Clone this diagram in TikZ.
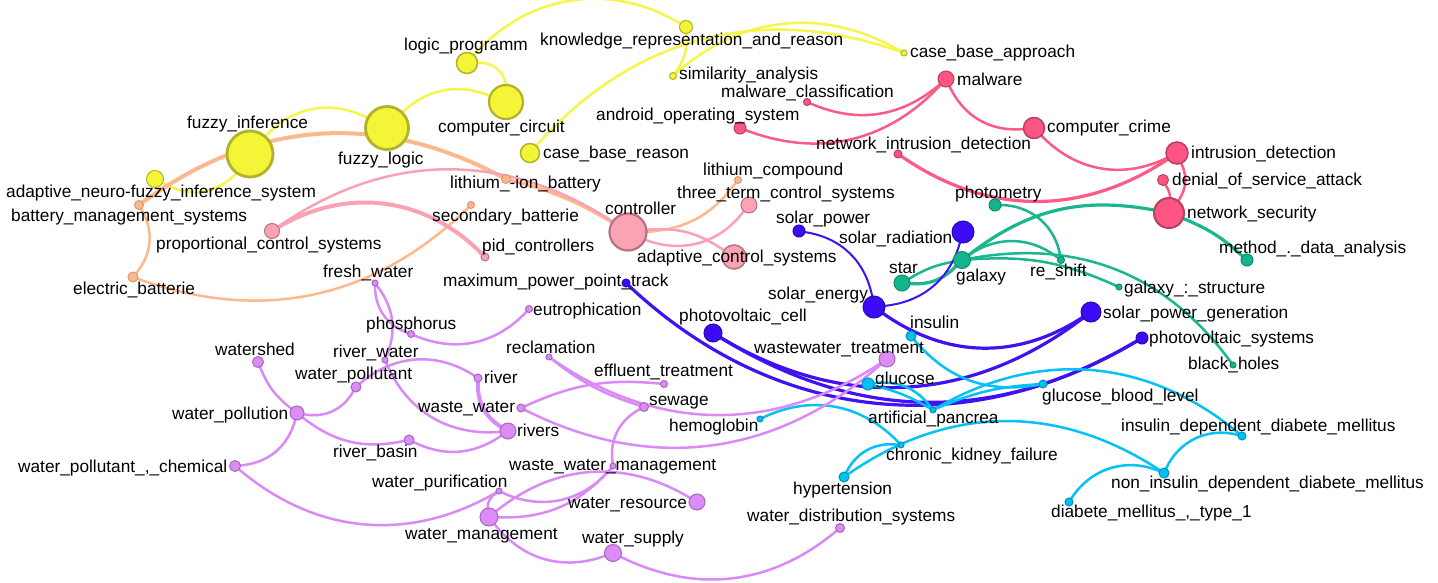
\documentclass[tikz,border=0pt]{standalone}
\usepackage{fontspec}
\setmainfont{Liberation Sans}
\usetikzlibrary{backgrounds}
\definecolor{yF}{HTML}{F4F536}\definecolor{yB}{HTML}{B2B22A}\definecolor{yE}{HTML}{F6F64A}
\definecolor{oF}{HTML}{FBB88C}\definecolor{oB}{HTML}{D99A72}\definecolor{oE}{HTML}{FDB98D}
\definecolor{pF}{HTML}{F9A3B4}\definecolor{pB}{HTML}{B87282}\definecolor{pE}{HTML}{F9A2B4}
\definecolor{rF}{HTML}{FD5583}\definecolor{rB}{HTML}{B8405F}\definecolor{rE}{HTML}{FD5A85}
\definecolor{gF}{HTML}{14B48C}\definecolor{gB}{HTML}{0E8C6A}\definecolor{gE}{HTML}{1AB68E}
\definecolor{bF}{HTML}{3D0AF5}\definecolor{bB}{HTML}{2A08B2}\definecolor{bE}{HTML}{4012F2}
\definecolor{cF}{HTML}{00C2F2}\definecolor{cB}{HTML}{0092BA}\definecolor{cE}{HTML}{04C2F5}
\definecolor{vF}{HTML}{DC8CF5}\definecolor{vB}{HTML}{A468BC}\definecolor{vE}{HTML}{DA8AF6}
\tikzset{
  nd/.style={circle, inner sep=0pt, outer sep=0pt, line width=1pt},
  dia/.style={minimum size=#1pt},
  nY/.style={nd, fill=yF, draw=yB}, nO/.style={nd, fill=oF, draw=oB},
  nP/.style={nd, fill=pF, draw=pB}, nR/.style={nd, fill=rF, draw=rB},
  nG/.style={nd, fill=gF, draw=gB}, nB/.style={nd, fill=bF, draw=bB},
  nC/.style={nd, fill=cF, draw=cB}, nV/.style={nd, fill=vF, draw=vB},
  lab/.style={anchor=base west, inner sep=0pt, font=\fontsize{17.25}{20}\selectfont, text=black},
  ed/.style={line width=2.5pt, line cap=round},
  eY/.style={ed, draw=yE}, eO/.style={ed, draw=oE}, eP/.style={ed, draw=pE},
  eR/.style={ed, draw=rE}, eG/.style={ed, draw=gE}, eB/.style={ed, draw=bE},
  eC/.style={ed, draw=cE}, eV/.style={ed, draw=vE},
  thick4/.style={line width=4pt}, thick3/.style={line width=3.2pt}, thin2/.style={line width=2pt}
}
\begin{document}
\begin{tikzpicture}[x=1pt,y=-1pt]
\useasboundingbox (0,0) rectangle (1438,582);
% ---------- nodes ----------
% yellow
\node[nY,dia=46,line width=2.8pt] (fi) at (250,154) {};
\node[nY,dia=43,line width=2.8pt] (fl) at (387,128) {};
\node[nY,dia=17] (anfis) at (155,179) {};
\node[nY,dia=21,line width=1.5pt] (lp) at (467,63) {};
\node[nY,dia=34,line width=2.2pt] (cc) at (506,102) {};
\node[nY,dia=19,line width=1.5pt] (cbr) at (530,153) {};
\node[nY,dia=13] (kr) at (686,27) {};
\node[nY,dia=7] (sa) at (673,76) {};
\node[nY,dia=6] (cba) at (904,53) {};
% orange
\node[nO,dia=9] (lib) at (506,179) {};
\node[nO,dia=9] (bms) at (139,205) {};
\node[nO,dia=10] (eb) at (133,277) {};
\node[nO,dia=7] (sb) at (471,205) {};
\node[nO,dia=7] (lc) at (738,180) {};
% pink
\node[nP,dia=37,line width=2.2pt] (ctrl) at (628,232) {};
\node[nP,dia=16] (tt) at (749,205) {};
\node[nP,dia=24,line width=1.5pt] (acs) at (734,257) {};
\node[nP,dia=15] (pcs) at (272,231) {};
\node[nP,dia=8] (pid) at (485,257) {};
% red
\node[nR,dia=16] (mal) at (946,79) {};
\node[nR,dia=7] (mc) at (807,102) {};
\node[nR,dia=12] (aos) at (740,128) {};
\node[nR,dia=8] (nid) at (898,154) {};
\node[nR,dia=21,line width=1.5pt] (ccr) at (1034,128) {};
\node[nR,dia=22,line width=1.5pt] (id) at (1177,153) {};
\node[nR,dia=11] (dos) at (1163,180) {};
\node[nR,dia=30,line width=2pt] (ns) at (1169,213) {};
% green
\node[nG,dia=12] (ph) at (995,205) {};
\node[nG,dia=17] (gal) at (962,260) {};
\node[nG,dia=16] (star) at (902,283) {};
\node[nG,dia=7] (rs) at (1061,260) {};
\node[nG,dia=6] (gs) at (1119,287) {};
\node[nG,dia=12] (mda) at (1247,260) {};
\node[nG,dia=6] (bh) at (1233,365) {};
% blue
\node[nB,dia=12] (sp) at (799,231) {};
\node[nB,dia=22] (sr) at (963,232) {};
\node[nB,dia=22] (se) at (874,307) {};
\node[nB,dia=20] (spg) at (1091,312) {};
\node[nB,dia=12] (pvs) at (1142,338) {};
\node[nB,dia=18] (pvc) at (713,333) {};
\node[nB,dia=8] (mppt) at (626,283) {};
% cyan
\node[nC,dia=10] (ins) at (911,336) {};
\node[nC,dia=12] (glu) at (868,384) {};
\node[nC,dia=6] (ap) at (933,410) {};
\node[nC,dia=8] (gbl) at (1043,384) {};
\node[nC,dia=6] (hem) at (760,419) {};
\node[nC,dia=6] (ckf) at (901,445) {};
\node[nC,dia=10] (hyp) at (844,477) {};
\node[nC,dia=8] (iddm) at (1242,436) {};
\node[nC,dia=10] (niddm) at (1164,473) {};
\node[nC,dia=8] (dm1) at (1069,502) {};
% purple
\node[nV,dia=6] (fw) at (375,283) {};
\node[nV,dia=7] (phos) at (411,334) {};
\node[nV,dia=7] (eut) at (529,309) {};
\node[nV,dia=6] (rw) at (385,360) {};
\node[nV,dia=10] (wp) at (356,387) {};
\node[nV,dia=11] (ws) at (258,362) {};
\node[nV,dia=14] (wpn) at (297,413) {};
\node[nV,dia=11] (wpc) at (235,466) {};
\node[nV,dia=10] (rb) at (409,440) {};
\node[nV,dia=8] (riv) at (478,378) {};
\node[nV,dia=8] (ww) at (521,408) {};
\node[nV,dia=16] (rivs) at (508,431) {};
\node[nV,dia=6] (rec) at (549,357) {};
\node[nV,dia=7] (et) at (664,384) {};
\node[nV,dia=9] (sew) at (644,407) {};
\node[nV,dia=16] (wwt) at (887,359) {};
\node[nV,dia=6] (wwm) at (613,466) {};
\node[nV,dia=6] (wpu) at (499,491) {};
\node[nV,dia=16] (wr) at (697,502) {};
\node[nV,dia=18] (wm) at (489,517) {};
\node[nV,dia=17] (wsu) at (613,553) {};
\node[nV,dia=9] (wds) at (840,528) {};
% ---------- edges ----------
\begin{scope}[on background layer]
\fill[white] (0,0) rectangle (1438,582);
% yellow
\draw[eY] (fi) to[bend left=38] (fl);
\draw[eY] (anfis) to[bend right=40] (fi);
\draw[eY] (fl) to[bend left=33] (cc);
\draw[eY] (lp) to[bend left=45] (cc);
\draw[eY] (lp) to[bend left=40] (kr);
\draw[eY] (kr) to[bend left=20] (sa);
\draw[eY] (sa) to[bend left=36] (cba);
\draw[eY] (cbr) to[bend left=34] (cba);
% orange
\draw[eO,thick4] (bms) to[bend left=32] (lib);
\draw[eO,thick3] (lib) to[bend left=8] (ctrl);
\draw[eO] (bms) to[bend left=35] (eb);
\draw[eO] (eb) to[bend right=32] (sb);
\draw[eO] (lc) to[bend left=25] (ctrl);
% pink
\draw[eP] (pcs) to[bend left=34] (ctrl);
\draw[eP,thick4] (pcs) to[bend left=38] (pid);
\draw[eP] (ctrl) to[bend right=37] (tt);
\draw[eP] (ctrl) to[bend left=20] (acs);
% red
\draw[eR] (mal) to[bend left=32] (mc);
\draw[eR] (mal) to[bend left=34] (aos);
\draw[eR] (mal) to[bend right=35] (ccr);
\draw[eR] (ccr) to[bend right=36] (id);
\draw[eR,thick3] (nid) to[bend right=34] (id);
\draw[eR] (id) to[bend left=30] (ns);
\draw[eR] (dos) to[bend left=15] (ns);
% green
\draw[eG] (ph) to[bend left=40] (rs);
\draw[eG,thick3] (gal) to[bend left=24] (ns);
\draw[eG,thick3] (ns) to[bend left=10] (mda);
\draw[eG] (gal) to[bend left=36] (rs);
\draw[eG] (gal) to[bend left=14] (gs);
\draw[eG] (gal) to[bend left=32] (bh);
\draw[eG] (star) to[bend left=10] (gal);
\draw[eG,thick3] (star) to[bend right=25] (gal);
% blue
\draw[eB,thin2] (sp) to[bend left=35] (se);
\draw[eB,thin2] (se) to[bend right=34] (sr);
\draw[eB,thick3] (se) to[bend right=34] (spg);
\draw[eB,thick3] (pvc) to[bend right=34] (spg);
\draw[eB,thick3] (pvc) to[bend right=31] (pvs);
\draw[eB,thick3] (mppt) to[bend right=37] (pvs);
% cyan
\draw[eC] (ins) to[bend right=30] (gbl);
\draw[eC] (glu) to[bend left=30] (ap);
\draw[eC] (glu) to[bend left=8] (ap);
\draw[eC] (ap) to[bend left=10] (gbl);
\draw[eC] (ap) to[bend left=35] (iddm);
\draw[eC] (hem) to[bend left=36] (ckf);
\draw[eC] (hyp) to[bend left=35] (ckf);
\draw[eC] (hyp) to[bend left=34] (niddm);
\draw[eC] (niddm) to[bend left=40] (iddm);
\draw[eC] (niddm) to[bend right=40] (dm1);
% purple
\draw[eV] (fw) to[bend right=35] (phos);
\draw[eV] (fw) to[bend left=30] (rw);
\draw[eV] (rw) to[bend right=36] (rivs);
\draw[eV] (phos) to[bend right=35] (eut);
\draw[eV] (wpn) to[bend left=15] (ws);
\draw[eV] (wpn) to[bend right=35] (wp);
\draw[eV] (wp) to[bend left=37] (riv);
\draw[eV,thick4] (riv) to[bend right=30] (rivs);
\draw[eV] (wpn) to[bend right=25] (rb);
\draw[eV] (rb) to[bend right=30] (rivs);
\draw[eV] (wpn) to[bend left=35] (wpc);
\draw[eV] (wpc) to[bend right=35] (wpu);
\draw[eV] (ww) to[bend left=15] (et);
\draw[eV] (ww) to[bend right=34] (wwt);
\draw[eV] (rec) to[bend right=10] (sew);
\draw[eV] (rec) to[bend right=34] (wwt);
\draw[eV] (sew) to[bend right=35] (wwm);
\draw[eV] (wwm) to[bend left=25] (wm);
\draw[eV] (wpu) to[bend right=38] (wwm);
\draw[eV] (wpu) to[bend right=30] (wm);
\draw[eV] (wm) to[bend left=35] (wr);
\draw[eV] (wm) to[bend right=36] (wsu);
\draw[eV] (wsu) to[bend right=33] (wds);
\end{scope}
% ---------- labels ----------
\node[lab] (l-fi) at (187,128) {fuzzy\_inference};
\node[lab] (l-fl) at (338,164) {fuzzy\_logic};
\node[lab] (l-anfis) at (6,197) {adaptive\_neuro-fuzzy\_inference\_system};
\node[lab] (l-lp) at (404,50) {logic\_programm};
\node[lab] (l-cc) at (438,132) {computer\_circuit};
\node[lab] (l-cbr) at (543,158) {case\_base\_reason};
\node[lab] (l-kr) at (540,45) {knowledge\_representation\_and\_reason};
\node[lab] (l-sa) at (679,79) {similarity\_analysis};
\node[lab] (l-cba) at (910,57) {case\_base\_approach};
\node[lab] (l-lib) at (450,188) {lithium\_-ion\_battery};
\node[lab] (l-bms) at (11,221) {battery\_management\_systems};
\node[lab] (l-eb) at (73,294) {electric\_batterie};
\node[lab] (l-sb) at (432,221) {secondary\_batterie};
\node[lab] (l-lc) at (703,175) {lithium\_compound};
\node[lab] (l-ctrl) at (605,214) {controller};
\node[lab] (l-tt) at (677,198) {three\_term\_control\_systems};
\node[lab] (l-acs) at (637,262) {adaptive\_control\_systems};
\node[lab] (l-pcs) at (156,249) {proportional\_control\_systems};
\node[lab] (l-pid) at (482,251) {pid\_controllers};
\node[lab] (l-mal) at (957,85) {malware};
\node[lab] (l-mc) at (721,97) {malware\_classification};
\node[lab] (l-aos) at (596,120) {android\_operating\_system};
\node[lab] (l-nid) at (816,149) {network\_intrusion\_detection};
\node[lab] (l-ccr) at (1047,132) {computer\_crime};
\node[lab] (l-id) at (1191,158) {intrusion\_detection};
\node[lab] (l-dos) at (1172,185) {denial\_of\_service\_attack};
\node[lab] (l-ns) at (1187,218) {network\_security};
\node[lab] (l-ph) at (955,198) {photometry};
\node[lab] (l-gal) at (956,281) {galaxy};
\node[lab] (l-star) at (889,273) {star};
\node[lab] (l-rs) at (1030,276) {re\_shift};
\node[lab] (l-gs) at (1124,293) {galaxy\_:\_structure};
\node[lab] (l-mda) at (1219,253) {method\_.\_data\_analysis};
\node[lab] (l-bh) at (1188,369) {black\_holes};
\node[lab] (l-sp) at (776,223) {solar\_power};
\node[lab] (l-sr) at (839,243) {solar\_radiation};
\node[lab] (l-se) at (768,299) {solar\_energy};
\node[lab] (l-spg) at (1103,318) {solar\_power\_generation};
\node[lab] (l-pvs) at (1149,343) {photovoltaic\_systems};
\node[lab] (l-pvc) at (679,321) {photovoltaic\_cell};
\node[lab] (l-mppt) at (443,286) {maximum\_power\_point\_track};
\node[lab] (l-ins) at (910,328) {insulin};
\node[lab] (l-glu) at (875,384) {glucose};
\node[lab] (l-ap) at (868,423) {artificial\_pancrea};
\node[lab] (l-gbl) at (1042,401) {glucose\_blood\_level};
\node[lab] (l-hem) at (669,431) {hemoglobin};
\node[lab] (l-ckf) at (886,460) {chronic\_kidney\_failure};
\node[lab] (l-hyp) at (793,494) {hypertension};
\node[lab] (l-iddm) at (1121,431) {insulin\_dependent\_diabete\_mellitus};
\node[lab] (l-niddm) at (1111,488) {non\_insulin\_dependent\_diabete\_mellitus};
\node[lab] (l-dm1) at (1051,517) {diabete\_mellitus\_,\_type\_1};
\node[lab] (l-fw) at (323,277) {fresh\_water};
\node[lab] (l-phos) at (366,329) {phosphorus};
\node[lab] (l-eut) at (533,315) {eutrophication};
\node[lab] (l-rw) at (333,357) {river\_water};
\node[lab] (l-wp) at (295,379) {water\_pollutant};
\node[lab] (l-ws) at (215,355) {watershed};
\node[lab] (l-wpn) at (172,419) {water\_pollution};
\node[lab] (l-wpc) at (18,472) {water\_pollutant\_,\_chemical};
\node[lab] (l-rb) at (333,457) {river\_basin};
\node[lab] (l-riv) at (484,383) {river};
\node[lab] (l-ww) at (418,412) {waste\_water};
\node[lab] (l-rivs) at (517,436) {rivers};
\node[lab] (l-rec) at (506,353) {reclamation};
\node[lab] (l-et) at (594,376) {effluent\_treatment};
\node[lab] (l-sew) at (649,405) {sewage};
\node[lab] (l-wwt) at (754,353) {wastewater\_treatment};
\node[lab] (l-wwm) at (509,470) {waste\_water\_management};
\node[lab] (l-wpu) at (372,487) {water\_purification};
\node[lab] (l-wr) at (568,508) {water\_resource};
\node[lab] (l-wm) at (405,539) {water\_management};
\node[lab] (l-wsu) at (582,543) {water\_supply};
\node[lab] (l-wds) at (747,521) {water\_distribution\_systems};
\end{tikzpicture}
\end{document}
